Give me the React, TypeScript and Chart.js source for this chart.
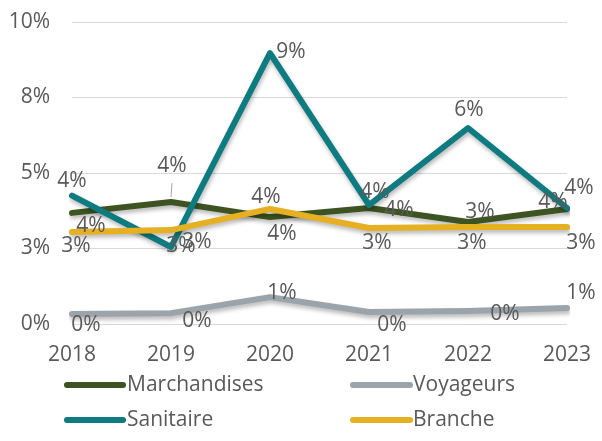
import React, { useEffect, useRef } from "react";
import { Chart, registerables } from "chart.js";

Chart.register(...registerables);

const categories = ["2018", "2019", "2020", "2021", "2022", "2023"];
const marchandises = [3.68, 4.04, 3.54, 3.84, 3.38, 3.81];
const voyageurs = [0.33, 0.36, 0.89, 0.4, 0.43, 0.53];
const sanitaire = [4.25, 2.55, 8.97, 3.94, 6.49, 3.84];
const branche = [3.05, 3.11, 3.81, 3.18, 3.21, 3.21];

const seriesNames = ["Marchandises", "Voyageurs", "Sanitaire", "Branche"];
const seriesColors = ["#3d5321", "#9ba3ab", "#0d7b80", "#e6b022"];

// label placement offsets (dx, dy) relative to each point
const marchandisesLabelOffsets = [[19, 13], [1, -36], [12, 17], [30, 2], [12, -10], [-14, -7]];
const voyageursLabelOffsets = [[14, 11], [26, 8], [12, -4], [23, 13], [37, 3], [14, -15]];
const sanitaireLabelOffsets = [[0, -15], [10, -1], [21, -1], [6, -13], [1, -18], [12, -20]];
const brancheLabelOffsets = [[4, 14], [26, 12], [-4, -12], [8, 15], [4, 16], [14, 16]];

const FONT = "'Open Sans', 'Noto Sans', sans-serif";
const TEXT = "#595959";
const FS = 21;

export default function App() {
  const ref = useRef<HTMLCanvasElement | null>(null);

  useEffect(() => {
    const canvas = ref.current;
    if (!canvas) return;
    const offsets = [marchandisesLabelOffsets, voyageursLabelOffsets, sanitaireLabelOffsets, brancheLabelOffsets];

    const shadowPlugin = {
      id: "shadow",
      beforeDatasetDraw(chart: any) {
        const ctx = chart.ctx;
        ctx.save();
        ctx.shadowColor = "rgba(0,0,0,0.28)";
        ctx.shadowBlur = 4;
        ctx.shadowOffsetX = 1;
        ctx.shadowOffsetY = 3;
      },
      afterDatasetDraw(chart: any) {
        chart.ctx.restore();
      },
    };

    const labelPlugin = {
      id: "labels",
      afterDatasetsDraw(chart: any) {
        const ctx = chart.ctx;
        ctx.save();
        const m = chart.getDatasetMeta(0).data[1];
        ctx.strokeStyle = "#a6a6a6";
        ctx.lineWidth = 1;
        ctx.beginPath();
        ctx.moveTo(m.x + 1, m.y - 19);
        ctx.lineTo(m.x, m.y - 5);
        ctx.stroke();

        ctx.font = `${FS}px ${FONT}`;
        ctx.fillStyle = TEXT;
        ctx.textAlign = "center";
        ctx.textBaseline = "middle";
        chart.data.datasets.forEach((ds: any, i: number) => {
          const meta = chart.getDatasetMeta(i);
          meta.data.forEach((pt: any, j: number) => {
            const v = ds.data[j];
            const [dx, dy] = offsets[i][j];
            ctx.fillText(Math.round(v) + "%", pt.x + dx, pt.y + dy);
          });
        });
        ctx.restore();
      },
      afterDraw(chart: any) {
        const ctx = chart.ctx;
        ctx.save();
        const cols = [[67, 123, 127], [353, 410, 413]];
        const rows = [385, 420];
        seriesNames.forEach((name, i) => {
          const c = cols[i % 2];
          const y = rows[Math.floor(i / 2)];
          ctx.strokeStyle = seriesColors[i];
          ctx.lineWidth = 6;
          ctx.lineCap = "round";
          ctx.beginPath();
          ctx.moveTo(c[0], y);
          ctx.lineTo(c[1], y);
          ctx.stroke();
          ctx.font = `${FS}px ${FONT}`;
          ctx.fillStyle = TEXT;
          ctx.textAlign = "left";
          ctx.textBaseline = "middle";
          ctx.fillText(name, c[2], y);
        });
        ctx.restore();
      },
    };

    const seriesData = [marchandises, voyageurs, sanitaire, branche];
    const drawOrder = [3, 2, 1, 0];

    const chart = new Chart(canvas, {
      type: "line",
      data: {
        labels: categories,
        datasets: seriesData.map((d, i) => ({
          label: seriesNames[i],
          data: d,
          borderColor: seriesColors[i],
          backgroundColor: seriesColors[i],
          borderWidth: 6,
          pointRadius: 0,
          tension: 0,
          borderJoinStyle: "round" as const,
          borderCapStyle: "round" as const,
          order: drawOrder[i],
          fill: false,
        })),
      },
      options: {
        animation: false,
        responsive: false,
        devicePixelRatio: 1,
        layout: { padding: { left: 0, right: 35, top: 22, bottom: 0 } },
        plugins: { legend: { display: false }, tooltip: { enabled: false } },
        scales: {
          x: {
            offset: false,
            grid: { display: false, drawTicks: false },
            border: { display: false },
            ticks: { color: TEXT, font: { family: FONT, size: FS }, padding: 18, maxRotation: 0 },
            afterFit(scale: any) {
              scale.height = 117;
              scale.paddingLeft = 0;
              scale.paddingRight = 0;
            },
          },
          y: {
            min: 0,
            max: 10,
            grid: { color: "#d9d9d9", lineWidth: 1, drawTicks: false },
            border: { display: false },
            ticks: {
              stepSize: 2.5,
              color: TEXT,
              font: { family: FONT, size: FS },
              padding: 22,
              callback: (v: any) => Math.round(Number(v)) + "%",
            },
            afterFit(scale: any) {
              scale.width = 72;
              scale.paddingTop = 0;
              scale.paddingBottom = 0;
            },
          },
        },
      },
      plugins: [shadowPlugin, labelPlugin],
    });
    return () => chart.destroy();
  }, []);

  return (
    <div style={{ position: "fixed", left: 0, top: 0, width: 602, height: 441, background: "#fff" }}>
      <canvas ref={ref} width={602} height={441} style={{ display: "block", width: 602, height: 441 }} />
    </div>
  );
}
